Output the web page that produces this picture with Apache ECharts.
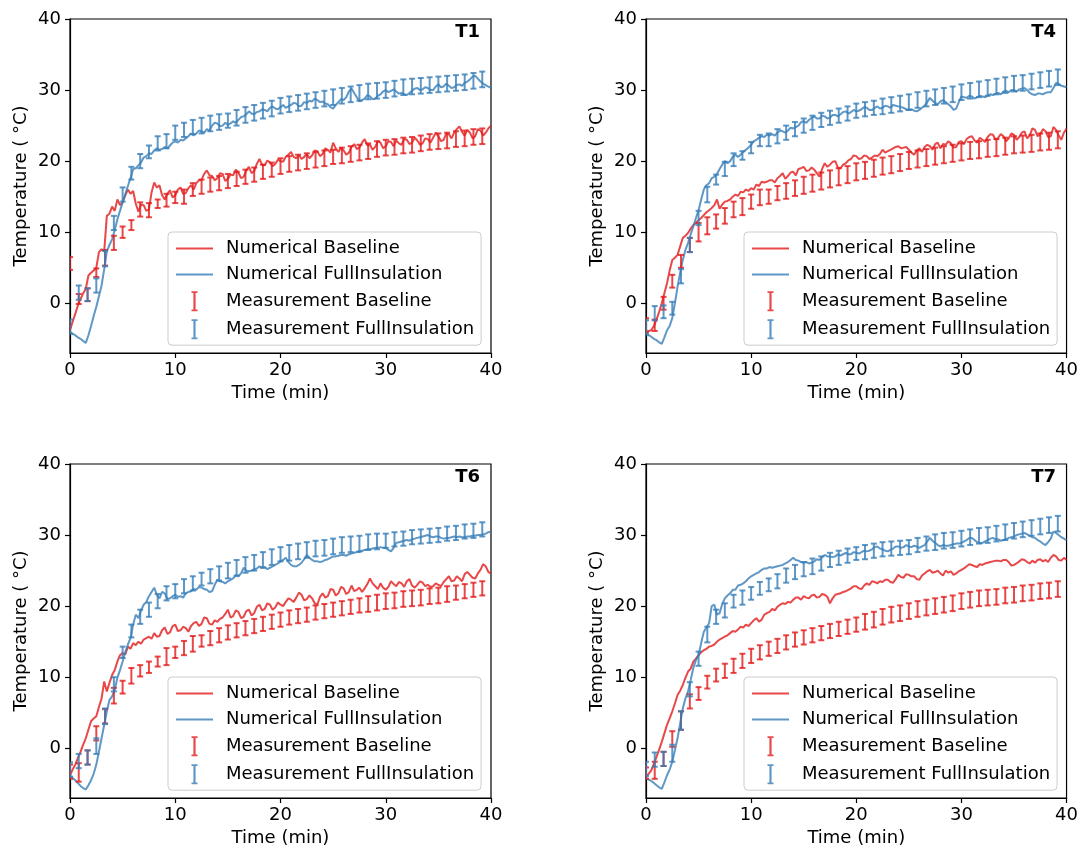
<!DOCTYPE html>
<html>
<head>
<meta charset="utf-8">
<title>Temperature: numerical vs measurement</title>
<script src="https://cdn.jsdelivr.net/npm/echarts@6/dist/echarts.min.js"></script>
<style>
  html, body { margin: 0; padding: 0; background: #fff; }
  #chart { width: 1081px; height: 853px; }
</style>
</head>
<body>
<div id="chart"></div>
<script>
// ---- axis ticks ----
const xTicks = [0, 10, 20, 30, 40];
const yTicks = [0, 10, 20, 30, 40];

// ---- sensors ----
const panelNames = ['T1', 'T4', 'T6', 'T7'];

// simulation output time (min), 15 s step
const simTime = [
  0,0.25,0.5,0.75,1,1.25,1.5,1.75,2,2.25,2.5,2.75,3,3.25,3.5,3.75,4,4.25,4.5,4.75,
  5,5.25,5.5,5.75,6,6.25,6.5,6.75,7,7.25,7.5,7.75,8,8.25,8.5,8.75,9,9.25,9.5,9.75,
  10,10.25,10.5,10.75,11,11.25,11.5,11.75,12,12.25,12.5,12.75,13,13.25,13.5,13.75,14,14.25,14.5,14.75,
  15,15.25,15.5,15.75,16,16.25,16.5,16.75,17,17.25,17.5,17.75,18,18.25,18.5,18.75,19,19.25,19.5,19.75,
  20,20.25,20.5,20.75,21,21.25,21.5,21.75,22,22.25,22.5,22.75,23,23.25,23.5,23.75,24,24.25,24.5,24.75,
  25,25.25,25.5,25.75,26,26.25,26.5,26.75,27,27.25,27.5,27.75,28,28.25,28.5,28.75,29,29.25,29.5,29.75,
  30,30.25,30.5,30.75,31,31.25,31.5,31.75,32,32.25,32.5,32.75,33,33.25,33.5,33.75,34,34.25,34.5,34.75,
  35,35.25,35.5,35.75,36,36.25,36.5,36.75,37,37.25,37.5,37.75,38,38.25,38.5,38.75,39,39.25,39.5,39.75,
  40];

// logger sample time (min), 50 s step
const measTime = [0,0.83,1.67,2.5,3.33,4.17,5,5.83,6.67,7.5,8.33,9.17,10,10.83,11.67,12.5,
  13.33,14.17,15,15.83,16.67,17.5,18.33,19.17,20,20.83,21.67,22.5,23.33,24.17,25,25.83,
  26.67,27.5,28.33,29.17,30,30.83,31.67,32.5,33.33,34.17,35,35.83,36.67,37.5,38.33,39.17];

// ---- T1 ----
const t1NumBase = [
  -3.8,-2.6,-1.5,-0.3, 0.6,1.4,2.0,3.9, 4.3,4.6,5.0,7.2, 7.6,7.3,12.3,12.6, 13.6,13.0,14.6,13.8,
  14.2,15.2,16.0,15.4, 15.8,14.0,12.9,13.9, 13.8,13.0,13.2,15.6, 17.0,16.3,16.6,15.2, 14.6,15.4,15.9,14.9,
  15.2,16.0,16.3,15.4, 15.5,16.2,16.6,16.0, 16.9,17.3,17.4,18.2, 18.7,18.0,17.9,17.3, 17.6,18.3,18.2,17.2,
  17.5,18.1,18.0,18.8, 18.4,17.6,17.8,18.7, 19.2,18.3,18.6,19.6, 20.3,19.5,19.4,20.1, 19.8,19.3,19.6,20.2,
  20.0,19.9,20.6,20.9, 21.3,20.6,20.4,20.9, 20.3,20.6,21.0,20.4, 20.8,21.5,21.4,20.7, 21.0,21.8,21.6,21.2,
  22.6,21.8,21.3,21.9, 21.5,20.9,21.2,22.0, 22.4,21.7,21.9,22.6, 23.1,22.2,22.3,21.6, 22.0,22.8,22.6,21.8,
  22.1,22.8,22.7,22.1, 22.9,22.5,22.3,23.1, 23.0,22.4,22.6,23.3, 22.9,22.3,22.5,23.2, 23.1,22.6,23.3,24.0,
  23.5,22.8,23.0,23.9, 23.8,23.2,24.0,24.5, 24.9,24.1,23.6,24.4, 24.0,23.2,23.5,24.5, 24.3,23.6,24.0,24.6,
  25.0];
const t1NumFull = [
  -4.0,-4.3,-4.5,-4.8, -5.0,-5.3,-5.6,-4.5, -3.2,-1.8,-0.5,1.0, 2.5,4.8,7.3,8.2, 9.0,10.3,11.8,13.0,
  14.2,15.3,16.5,17.6, 18.9,19.0,19.4,19.8, 20.5,20.7,21.1,21.0, 21.5,21.8,21.6,21.7, 22.0,21.8,22.2,22.6,
  22.8,22.6,23.0,22.9, 23.2,23.5,23.9,23.6, 23.9,24.3,24.2,24.0, 24.5,24.3,25.0,25.4, 25.3,24.9,25.0,25.4,
  25.1,25.3,25.6,25.4, 25.8,26.2,26.3,26.6, 27.0,26.7,26.6,26.9, 27.0,27.3,27.2,27.0, 27.5,27.7,27.4,27.3,
  27.6,27.9,27.5,27.7, 27.9,28.2,28.1,27.7, 27.8,28.3,28.2,28.5, 28.4,28.8,28.6,28.3, 28.4,28.1,28.0,27.6,
  27.4,27.9,28.3,28.7, 28.6,29.0,29.8,30.2, 29.6,29.0,28.4,28.6, 28.8,29.3,29.1,28.7, 28.8,29.2,29.4,29.8,
  30.0,29.7,29.9,30.1, 29.8,29.5,29.6,29.4, 29.3,29.6,29.9,30.2, 30.3,30.0,30.1,30.4, 30.3,30.0,30.0,30.5,
  30.8,30.4,30.5,30.9, 30.6,30.3,30.4,30.7, 30.8,30.6,31.0,31.2, 31.5,31.9,32.0,31.6, 31.2,30.9,30.7,30.5,
  30.3];
const t1MeasBase = [5.6,0.6,1.2,4.3,6.4,8.5,10.0,11.0,13.2,13.1,
  14.0,14.5,14.9,15.0,16.0,16.4,16.7,16.9,17.2,17.5,
  17.8,18.1,18.5,18.8,19.3,19.6,19.8,20.0,20.2,20.4,
  20.6,20.8,21.0,21.2,21.4,21.7,21.9,22.0,22.2,22.3,
  22.5,22.7,22.8,22.9,23.1,23.2,23.4,23.5];
const t1MeasBaseSd = [0.9,0.7,0.9,0.6,1.1,1.0,0.8,0.7,1.0,1.0,
  0.6,0.9,0.8,1.0,0.9,1.0,1.0,1.0,1.0,1.0,
  1.0,1.0,1.0,1.0,1.1,1.1,1.1,1.1,1.1,1.1,
  1.0,1.1,1.1,1.1,1.1,1.1,1.1,1.1,1.1,1.1,
  1.1,1.1,1.1,1.1,1.1,1.1,1.1,1.1];
const t1MeasFull = [-3.3,1.5,1.2,2.5,6.3,11.3,15.3,18.3,20.0,21.3,
  22.5,22.8,24.0,24.4,24.8,25.0,25.3,25.5,25.7,26.1,
  26.5,26.8,27.1,27.4,27.8,28.0,28.2,28.4,28.6,28.8,
  29.0,29.2,29.4,29.6,29.8,29.9,30.0,30.2,30.4,30.5,
  30.6,30.7,30.8,30.9,31.0,31.1,31.3,31.5];
const t1MeasFullSd = [1.0,1.0,0.9,1.0,1.1,1.0,1.0,0.9,1.0,0.9,
  1.0,1.0,1.0,1.0,1.0,1.1,1.1,1.1,1.0,1.1,
  1.1,1.1,1.1,1.1,1.1,1.1,1.1,1.1,1.1,1.1,
  1.1,1.1,1.1,1.1,1.1,1.1,1.1,1.1,1.1,1.1,
  1.1,1.1,1.1,1.1,1.1,1.1,1.1,1.1];

// ---- T4 ----
const t4NumBase = [
  -4.0,-3.9,-3.8,-3.2, -2.3,-1.2,0.0,1.4, 2.8,4.6,6.1,6.4, 6.8,8.0,9.2,9.5, 9.9,10.5,11.0,11.3,
  11.7,12.0,12.4,12.8, 13.1,13.4,13.8,14.6, 13.3,13.9,14.3,14.4, 14.6,15.0,15.3,15.1, 15.7,15.6,16.0,15.8,
  16.2,16.0,16.7,16.5, 17.1,17.0,17.1,17.3, 17.3,17.0,17.6,17.9, 18.3,17.5,17.9,18.4, 18.5,18.0,18.9,19.0,
  19.2,18.6,18.7,19.1, 18.8,18.3,17.8,18.9, 19.7,19.2,19.5,19.9, 20.0,19.1,19.0,19.5, 19.7,20.1,20.3,20.8,
  20.7,20.3,20.4,20.8, 20.7,20.3,20.5,20.8, 20.7,21.0,21.6,21.2, 21.4,21.6,21.8,22.0, 22.1,21.8,21.9,22.0,
  21.6,21.2,20.9,21.5, 21.8,21.3,22.0,22.3, 22.1,21.6,22.4,22.6, 21.8,22.4,22.3,22.8, 22.5,21.9,22.0,22.7,
  22.8,22.4,23.1,23.4, 23.5,22.9,22.6,23.3, 23.0,22.7,23.4,23.8, 23.7,23.0,23.3,23.8, 23.5,22.8,23.2,23.9,
  23.7,23.0,23.4,24.0, 24.2,23.2,23.6,24.6, 24.4,23.5,23.8,24.5, 24.2,23.4,23.5,24.8, 24.4,23.6,23.0,24.0,
  24.6];
const t4NumFull = [
  -4.2,-4.5,-4.7,-5.0, -5.2,-5.5,-5.7,-4.8, -3.8,-3.2,-2.1,0.0, 2.3,4.3,6.1,7.5, 8.5,9.7,10.8,12.0,
  13.1,14.6,16.0,16.6, 16.9,17.6,17.8,18.2, 18.9,19.5,20.0,19.7, 20.0,20.6,20.9,20.6, 20.9,21.3,21.6,21.9,
  22.3,22.8,23.0,23.3, 23.5,23.4,23.7,23.6, 23.8,23.6,24.0,24.3, 24.2,24.0,24.3,24.7, 24.6,24.8,25.0,25.5,
  25.6,25.4,25.8,26.1, 26.3,26.0,26.0,26.4, 26.3,26.0,26.1,26.5, 26.5,26.3,26.6,26.9, 27.0,26.7,26.9,27.2,
  27.0,27.1,27.3,27.6, 27.5,27.2,27.2,27.5, 27.7,27.4,27.5,27.8, 27.7,27.5,27.9,27.8, 27.7,27.6,27.5,27.3,
  27.2,27.3,27.1,27.0, 27.2,27.5,27.8,28.3, 28.9,28.5,28.2,28.0, 28.4,28.6,28.3,28.0, 27.7,27.2,27.4,28.3,
  29.1,29.0,28.9,29.2, 29.1,28.8,29.0,29.2, 29.1,29.0,29.2,29.4, 29.3,29.5,29.6,29.4, 29.8,29.9,29.7,30.0,
  30.0,29.8,30.1,30.2, 30.3,30.0,29.6,29.4, 29.3,29.5,29.5,29.4, 29.6,29.7,29.7,30.3, 31.0,30.9,30.6,30.5,
  30.4];
const t4MeasBase = [-3.1,-3.1,0.0,3.1,5.9,8.2,10.0,10.9,11.5,12.3,
  13.2,13.6,14.3,14.9,15.0,15.5,15.8,16.2,16.6,16.9,
  17.2,17.5,17.8,18.1,18.5,18.7,19.0,19.3,19.5,19.8,
  20.1,20.3,20.5,20.7,20.9,21.1,21.3,21.5,21.6,21.8,
  21.9,22.1,22.3,22.4,22.5,22.7,22.8,23.0];
const t4MeasBaseSd = [1.0,0.8,0.9,0.9,0.9,1.0,1.3,1.2,1.0,1.1,
  1.1,1.2,1.0,1.1,1.0,1.0,1.1,1.1,1.2,1.2,
  1.2,1.2,1.2,1.2,1.2,1.2,1.2,1.2,1.2,1.2,
  1.2,1.2,1.2,1.2,1.2,1.2,1.2,1.2,1.2,1.2,
  1.2,1.2,1.2,1.2,1.2,1.2,1.2,1.2];
const t4MeasFull = [-3.4,-1.4,-1.2,-0.7,3.8,8.2,12.0,15.3,17.4,18.9,
  20.2,20.8,21.9,22.9,23.0,23.5,24.0,24.5,25.0,25.4,
  25.8,26.1,26.4,26.7,27.1,27.3,27.5,27.7,27.9,28.1,
  28.3,28.6,28.8,29.0,29.2,29.4,29.7,29.9,30.1,30.3,
  30.5,30.7,30.9,31.0,31.2,31.4,31.6,31.8];
const t4MeasFullSd = [1.0,1.0,0.9,0.9,1.0,1.0,1.0,1.1,0.7,1.0,
  0.9,0.6,0.8,0.8,0.9,1.0,1.0,1.0,1.0,1.0,
  1.0,1.0,1.0,1.0,1.0,1.0,1.0,1.1,1.1,1.1,
  1.1,1.1,1.1,1.1,1.1,1.1,1.1,1.1,1.1,1.1,
  1.1,1.1,1.1,1.1,1.1,1.1,1.1,1.1];

// ---- T6 ----
const t6NumBase = [
  -3.8,-3.0,-2.3,-1.4, -0.5,0.5,1.4,2.6, 3.8,4.2,4.5,5.8, 7.0,9.4,8.0,9.2, 10.3,11.0,12.2,13.1,
  13.4,13.2,14.3,14.0, 14.8,14.5,15.0,14.7, 15.3,15.5,15.7,15.4, 16.2,15.7,15.8,16.6, 17.0,16.1,16.3,17.2,
  17.4,16.5,16.6,17.1, 16.9,16.4,17.2,17.6, 17.8,17.2,17.5,18.4, 18.3,17.5,17.4,18.0, 17.8,18.2,18.4,18.9,
  19.5,18.4,18.6,19.4, 19.2,18.3,18.5,19.3, 19.5,18.7,19.0,19.9, 20.2,19.4,19.6,20.4, 20.2,19.5,19.8,20.5,
  20.2,20.0,20.6,21.1, 20.9,20.6,21.2,21.9, 21.6,20.8,21.0,21.5, 21.1,20.4,20.2,21.3, 21.8,21.2,21.4,22.4,
  22.3,21.5,21.8,22.7, 22.5,21.7,22.0,22.9, 22.1,22.3,22.6,22.0, 22.5,23.1,23.9,23.2, 22.8,22.4,23.2,22.6,
  22.3,22.7,23.5,23.1, 22.8,23.4,23.2,22.7, 23.5,23.8,22.9,22.6, 23.0,23.5,23.3,22.8, 23.0,22.7,22.8,23.2,
  23.0,22.8,23.4,23.8, 24.2,23.5,23.6,24.2, 23.9,23.5,24.5,24.8, 24.4,24.0,23.9,24.6, 25.1,25.9,25.6,24.8,
  24.6];
const t6NumFull = [
  -3.8,-4.2,-4.5,-4.9, -5.3,-5.6,-5.8,-5.2, -4.5,-3.6,-2.3,-0.5, 1.4,3.3,5.2,6.8, 7.3,8.2,9.9,11.0,
  12.2,13.5,14.6,15.5, 17.4,18.8,18.3,19.4, 20.2,20.6,21.4,22.0, 22.6,21.6,21.1,22.0, 21.8,21.0,21.1,21.4,
  21.6,21.3,21.4,21.2, 21.8,22.0,22.1,22.4, 22.3,22.7,22.6,22.4, 22.3,22.0,22.1,23.0, 23.7,23.5,23.4,23.2,
  23.5,23.7,23.9,24.3, 24.2,24.6,25.4,25.0, 24.9,25.0,25.2,25.3, 25.6,25.4,25.5,25.2, 25.4,25.6,25.8,26.0,
  26.3,26.5,26.8,26.2, 25.8,25.6,25.6,25.8, 26.1,26.6,27.2,26.8, 26.5,26.3,26.3,26.2, 26.3,26.5,26.6,26.8,
  27.0,27.0,27.1,27.2, 27.2,27.1,27.3,27.4, 27.5,27.6,27.6,27.8, 27.9,28.0,28.0,28.1, 28.2,28.2,28.3,28.2,
  28.2,27.9,27.7,28.2, 28.9,29.0,29.1,29.2, 29.3,29.2,29.4,29.5, 29.6,29.7,29.8,29.9, 30.0,29.8,29.7,29.8,
  29.8,29.6,29.5,29.6, 29.6,29.7,29.8,29.7, 29.8,29.7,29.7,29.8, 29.8,29.9,29.9,30.0, 30.0,30.1,30.2,30.4,
  30.5];
const t6MeasBase = [-3.3,-3.4,-1.3,2.1,4.5,7.4,8.6,10.2,10.9,11.4,
  12.2,12.9,13.5,14.1,14.7,15.1,15.5,15.9,16.3,16.6,
  16.9,17.2,17.5,17.8,18.1,18.4,18.6,18.8,19.1,19.3,
  19.5,19.7,19.9,20.1,20.3,20.5,20.7,20.8,21.0,21.1,
  21.2,21.4,21.5,21.7,21.9,22.1,22.3,22.5];
const t6MeasBaseSd = [1.0,1.3,1.0,1.0,1.0,1.1,0.9,1.1,0.8,0.8,
  0.7,1.2,0.8,1.0,1.1,0.8,1.0,1.0,1.0,1.0,
  1.0,1.0,1.0,1.0,1.0,1.0,1.0,1.0,1.0,1.0,
  1.0,1.0,1.0,1.0,1.1,1.1,1.1,1.1,1.1,1.1,
  1.1,1.1,1.1,1.1,1.0,1.0,1.0,1.0];
const t6MeasFull = [-3.0,-1.8,-1.3,0.3,4.5,9.0,13.5,16.5,18.5,19.5,
  20.7,21.8,22.1,22.8,23.2,23.8,24.2,24.6,25.0,25.4,
  25.8,26.1,26.5,26.9,27.3,27.5,27.7,27.9,28.1,28.2,
  28.4,28.6,28.7,28.8,29.0,29.1,29.2,29.4,29.5,29.7,
  29.8,29.9,30.0,30.2,30.3,30.5,30.6,30.8];
const t6MeasFullSd = [1.0,1.0,1.0,1.1,1.1,1.0,0.8,0.9,1.0,1.0,
  1.0,1.0,1.0,1.0,1.0,0.9,1.0,1.0,1.1,1.1,
  1.1,1.1,1.1,1.1,1.0,1.1,1.1,1.1,1.1,1.1,
  1.1,1.1,1.1,1.1,1.1,1.1,1.0,1.0,1.0,1.0,
  1.0,1.0,1.0,1.0,1.0,1.0,1.0,1.0];

// ---- T7 ----
const t7NumBase = [
  -4.0,-3.6,-3.1,-2.2, -1.2,-0.2,0.9,2.1, 3.3,4.2,5.2,6.3, 7.5,8.1,8.9,9.9, 10.8,11.2,12.2,12.6,
  13.1,13.5,13.8,14.0, 14.3,14.4,14.6,15.0, 15.3,15.5,15.7,15.9, 16.2,16.5,16.4,16.7, 17.1,17.0,17.4,17.2,
  17.6,18.0,18.3,17.8, 18.1,18.8,19.0,19.2, 19.6,19.4,19.9,20.2, 20.4,20.3,20.6,20.5, 20.9,21.2,21.2,20.9,
  21.4,21.2,21.1,21.5, 21.6,21.2,21.3,21.7, 21.6,21.3,20.4,21.1, 21.6,21.7,21.8,22.0, 22.1,22.3,22.5,22.8,
  22.8,22.5,22.4,22.9, 23.2,23.0,23.5,23.4, 23.2,23.5,23.4,23.7, 23.7,23.4,23.3,23.8, 24.4,24.1,24.0,24.5,
  24.4,24.2,24.2,23.8, 23.7,24.3,24.6,24.9, 25.1,24.7,24.8,25.0, 24.6,24.3,25.0,24.7, 24.9,24.4,24.6,24.9,
  25.1,25.3,25.6,25.9, 25.8,25.6,25.5,25.9, 25.8,26.0,26.1,26.2, 26.3,26.4,26.4,26.3, 26.5,26.5,26.2,25.7,
  25.8,26.0,26.3,26.6, 26.5,26.2,26.0,26.4, 26.1,26.5,26.6,26.3, 26.5,26.2,26.8,27.2, 27.0,26.5,26.4,26.8,
  26.5];
const t7NumFull = [
  -4.2,-4.4,-4.6,-4.9, -5.2,-5.5,-5.7,-4.8, -3.8,-3.0,-1.9,-0.3, 1.4,3.5,5.6,7.0, 8.0,9.6,11.3,12.4,
  13.1,14.8,16.4,17.0, 17.6,20.0,20.2,18.8, 19.0,20.3,21.1,21.5, 21.8,22.3,22.3,22.9, 23.0,23.2,23.5,23.9,
  24.2,24.4,24.6,24.8, 25.1,25.3,25.3,25.5, 25.4,25.5,25.6,25.7, 25.8,26.0,26.2,26.5, 26.8,26.5,26.4,26.2,
  26.1,26.2,26.0,26.1, 26.3,26.6,26.5,26.9, 27.2,27.0,27.0,26.9, 27.0,27.3,27.1,27.3, 27.5,27.3,27.3,27.6,
  27.5,27.4,27.6,27.8, 27.7,27.8,28.0,28.3, 28.4,28.1,28.0,27.8, 27.7,27.9,28.1,28.4, 28.4,28.2,28.3,28.6,
  28.4,28.3,28.5,28.4, 28.2,28.4,28.6,29.1, 29.6,29.2,28.9,28.6, 28.4,28.6,28.5,28.5, 28.6,28.7,28.8,28.8,
  28.9,29.1,29.3,29.6, 29.6,29.3,29.0,28.9, 28.9,29.1,29.3,29.5, 29.6,29.4,29.4,29.2, 29.3,29.4,29.6,29.7,
  29.8,30.0,30.1,30.2, 30.3,30.1,29.9,29.7, 29.6,29.3,29.1,28.8, 28.6,29.0,29.5,30.5, 30.3,30.0,29.7,29.5,
  29.3];
const t7MeasBase = [-3.5,-3.1,-1.5,1.3,3.9,6.6,7.7,9.3,10.3,10.9,
  11.6,12.3,13.0,13.5,14.0,14.4,14.9,15.3,15.6,15.9,
  16.2,16.5,16.8,17.1,17.4,17.8,18.1,18.5,18.8,19.0,
  19.3,19.6,19.8,20.0,20.2,20.4,20.7,20.9,21.1,21.2,
  21.3,21.5,21.6,21.8,21.9,22.1,22.2,22.4];
const t7MeasBaseSd = [0.8,1.2,1.0,1.1,1.3,1.0,0.9,0.9,0.9,1.0,
  1.0,1.0,1.0,1.0,1.0,1.0,1.0,1.0,1.0,1.0,
  1.0,1.0,1.0,1.0,1.0,1.1,1.1,1.1,1.1,1.1,
  1.1,1.1,1.1,1.1,1.1,1.1,1.1,1.1,1.1,1.1,
  1.1,1.1,1.1,1.1,1.1,1.1,1.1,1.1];
const t7MeasFull = [-2.9,-1.6,-1.5,-0.7,3.9,8.3,12.6,16.0,18.5,19.4,
  20.7,21.2,21.8,22.5,23.0,23.5,24.3,24.8,25.2,25.6,
  26.0,26.5,26.8,27.1,27.4,27.6,27.8,28.0,28.1,28.2,
  28.3,28.6,28.8,29.0,29.2,29.3,29.5,29.7,29.9,30.0,
  30.2,30.4,30.6,30.8,31.0,31.2,31.4,31.6];
const t7MeasFullSd = [1.0,1.0,1.0,1.2,1.3,1.0,1.0,1.1,1.0,1.0,
  0.9,1.0,0.9,0.9,0.9,1.0,1.0,1.0,1.0,1.1,
  1.0,1.0,1.0,1.0,0.9,1.0,1.0,1.0,1.0,1.0,
  1.0,1.0,1.0,1.1,1.1,1.1,1.1,1.1,1.1,1.1,
  1.1,1.1,1.1,1.1,1.1,1.1,1.1,1.1];

const seriesNames = ['Numerical Baseline', 'Numerical FullInsulation',
                     'Measurement Baseline', 'Measurement FullInsulation'];

const panels = [
  { name: panelNames[0], numBase: t1NumBase, numFull: t1NumFull,
    measBase: t1MeasBase, measBaseSd: t1MeasBaseSd, measFull: t1MeasFull, measFullSd: t1MeasFullSd },
  { name: panelNames[1], numBase: t4NumBase, numFull: t4NumFull,
    measBase: t4MeasBase, measBaseSd: t4MeasBaseSd, measFull: t4MeasFull, measFullSd: t4MeasFullSd },
  { name: panelNames[2], numBase: t6NumBase, numFull: t6NumFull,
    measBase: t6MeasBase, measBaseSd: t6MeasBaseSd, measFull: t6MeasFull, measFullSd: t6MeasFullSd },
  { name: panelNames[3], numBase: t7NumBase, numFull: t7NumFull,
    measBase: t7MeasBase, measBaseSd: t7MeasBaseSd, measFull: t7MeasFull, measFullSd: t7MeasFullSd }
];

// ---- layout / style ----
const FONT = 'DejaVu Sans';
const RED = 'rgba(228,26,28,0.8)';
const BLUE = 'rgba(55,126,184,0.8)';
const CHART_W = 1081;
const boxes = [
  { left: 70,  top: 19 },
  { left: 646, top: 19 },
  { left: 70,  top: 464 },
  { left: 646, top: 464 }
];
const GRID_W = 421, GRID_H = 334;

// vertical capped bar used as legend key for the error bars
const errIcon = 'path://M0,0H6V1.8H4.1V18.2H6V20H0V18.2H1.9V1.8H0Z';

function toLine(vals) {
  return simTime.map((t, i) => [t, vals[i]]);
}
function toBars(mean, sd) {
  return measTime.map((t, i) => [t, mean[i] - sd[i], mean[i] + sd[i]]);
}

function renderErrorBar(params, api) {
  const x = api.value(0);
  const top = api.coord([x, api.value(2)]);
  const bot = api.coord([x, api.value(1)]);
  const cap = 3;
  const style = { stroke: api.visual('color'), lineWidth: 2, fill: null };
  return {
    type: 'group',
    children: [
      { type: 'line', shape: { x1: top[0], y1: top[1], x2: bot[0], y2: bot[1] }, style },
      { type: 'line', shape: { x1: top[0] - cap, y1: top[1], x2: top[0] + cap, y2: top[1] }, style },
      { type: 'line', shape: { x1: bot[0] - cap, y1: bot[1], x2: bot[0] + cap, y2: bot[1] }, style }
    ]
  };
}

const grid = [], xAxis = [], yAxis = [], series = [], title = [], legend = [];

panels.forEach((p, i) => {
  const b = boxes[i];
  grid.push({
    left: b.left, top: b.top, width: GRID_W, height: GRID_H,
    show: true, borderColor: '#000', borderWidth: 1.2, backgroundColor: 'transparent'
  });
  xAxis.push({
    gridIndex: i, type: 'value', min: 0, max: 40,
    name: 'Time (min)', nameLocation: 'middle', nameGap: 31,
    nameTextStyle: { fontSize: 18, fontFamily: FONT, color: '#000' },
    axisLine: { show: true, onZero: false, lineStyle: { color: '#000', width: 1.2 } },
    axisTick: { show: true, inside: false, length: 5, customValues: xTicks, lineStyle: { color: '#000', width: 1.2 } },
    axisLabel: { customValues: xTicks, fontSize: 18, fontFamily: FONT, color: '#000', margin: 8 },
    splitLine: { show: false }
  });
  yAxis.push({
    gridIndex: i, type: 'value', min: -7, max: 40,
    name: 'Temperature ( °C)', nameLocation: 'middle', nameGap: 40,
    nameTextStyle: { fontSize: 18, fontFamily: FONT, color: '#000' },
    axisLine: { show: true, onZero: false, lineStyle: { color: '#000', width: 1.2 } },
    axisTick: { show: true, inside: false, length: 5, customValues: yTicks, lineStyle: { color: '#000', width: 1.2 } },
    axisLabel: { customValues: yTicks, fontSize: 18, fontFamily: FONT, color: '#000', margin: 9 },
    splitLine: { show: false }
  });

  series.push({
    name: seriesNames[0], type: 'line', xAxisIndex: i, yAxisIndex: i,
    data: toLine(p.numBase), symbol: 'none', clip: true,
    lineStyle: { color: RED, width: 2 }, itemStyle: { color: RED }, z: 2
  });
  series.push({
    name: seriesNames[1], type: 'line', xAxisIndex: i, yAxisIndex: i,
    data: toLine(p.numFull), symbol: 'none', clip: true,
    lineStyle: { color: BLUE, width: 2 }, itemStyle: { color: BLUE }, z: 2
  });
  series.push({
    name: seriesNames[2], type: 'custom', xAxisIndex: i, yAxisIndex: i,
    data: toBars(p.measBase, p.measBaseSd), encode: { x: 0, y: [1, 2] },
    renderItem: renderErrorBar, itemStyle: { color: RED }, clip: true, z: 3
  });
  series.push({
    name: seriesNames[3], type: 'custom', xAxisIndex: i, yAxisIndex: i,
    data: toBars(p.measFull, p.measFullSd), encode: { x: 0, y: [1, 2] },
    renderItem: renderErrorBar, itemStyle: { color: BLUE }, clip: true, z: 3
  });

  title.push({
    text: p.name,
    right: CHART_W - (b.left + GRID_W - 11),
    top: b.top + 4,
    padding: 0,
    textStyle: { fontSize: 18, fontWeight: 'bold', fontFamily: FONT, color: '#000' }
  });

  legend.push({
    orient: 'vertical',
    left: b.left + 98, top: b.top + 213,
    itemWidth: 37, itemHeight: 20, itemGap: 7.9,
    padding: [7.5, 7, 6, 7],
    backgroundColor: 'rgba(255,255,255,0.8)',
    borderColor: '#cccccc', borderWidth: 1, borderRadius: 4,
    symbolKeepAspect: true,
    selectedMode: false,
    textStyle: { fontSize: 18, fontFamily: FONT, color: '#000', padding: [0, 0, 0, 8] },
    data: [
      { name: seriesNames[0], itemStyle: { opacity: 0 } },
      { name: seriesNames[1], itemStyle: { opacity: 0 } },
      { name: seriesNames[2], icon: errIcon, itemStyle: { color: RED } },
      { name: seriesNames[3], icon: errIcon, itemStyle: { color: BLUE } }
    ]
  });
});

const chart = echarts.init(document.getElementById('chart'), null, { renderer: 'canvas' });
chart.setOption({
  animation: false,
  backgroundColor: '#fff',
  textStyle: { fontFamily: FONT },
  title, legend, grid, xAxis, yAxis, series
});
</script>
</body>
</html>
